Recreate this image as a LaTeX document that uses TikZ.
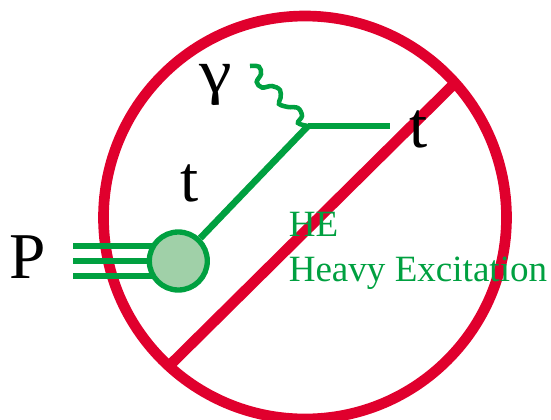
\documentclass[tikz,border=0pt]{standalone}
\usepackage{fontspec}
\usepackage{graphicx}
\setmainfont{Liberation Serif}
\definecolor{hered}{RGB}{224,0,45}
\definecolor{hegreen}{RGB}{0,160,64}
\definecolor{hefill}{RGB}{160,208,168}
\tikzset{
 px/.style={x=0.75pt,y=-0.75pt},
 ring/.style={draw=hered,line width=8pt},
 gl/.style={draw=hegreen,line width=5pt},
 wavy/.style={draw=hegreen,line width=3.4pt},
 lab/.style={inner sep=0pt,anchor=base west,text=black,font=\fontsize{49}{49}\selectfont},
 hetext/.style={inner sep=0pt,anchor=base west,text=hegreen,font=\fontsize{27.8}{27.8}\selectfont}
}
\begin{document}
\begin{tikzpicture}[px]
\useasboundingbox (0,0) rectangle (551,419);
\coordinate (c) at (305,217.5);
\coordinate (v) at (308,126);
\coordinate (te) at (390,126);
\coordinate (ge) at (250,66);
\coordinate (l1) at (172,363);
\coordinate (l2) at (455,83);
\coordinate (p1s) at (73,246);\coordinate (p1e) at (160,246);
\coordinate (p2s) at (73,261);\coordinate (p2e) at (160,261);
\coordinate (p3s) at (73,276);\coordinate (p3e) at (160,276);
\draw[ring] (c) circle (201.5);
\draw[ring] (l1) -- (l2);
\draw[gl] (p1s) -- (p1e);
\draw[gl] (p2s) -- (p2e);
\draw[gl] (p3s) -- (p3e);
\node[circle,minimum size=43.5pt,inner sep=0pt,draw=hegreen,line width=4pt,fill=hefill] (b) at (178.3,261) {};
\draw[gl] (b) -- (v);
\draw[gl] (v) -- (te);
\draw[wavy] plot[smooth,tension=0.6] coordinates {(ge) (259,66.7) (261,74) (256.7,82) (262,87.5) (272,86) (280,90) (280.5,98) (279,104) (288,107) (298,108) (302,116) (298,123) (v)};
\node[lab] (P) at (9,278) {P};
\node[lab] (t1) at (180,201) {t};
\node[lab] (t2) at (409,147) {t};
\node[inner sep=0pt,anchor=base west,text=black,font=\fontsize{46}{46}\selectfont] (g) at (199,92) {\scalebox{1.2}[1]{γ}};
\node[hetext] (h1) at (288.5,236.7) {HE};
\node[hetext] (h2) at (288.5,281) {Heavy Excitation};
\end{tikzpicture}
\end{document}
